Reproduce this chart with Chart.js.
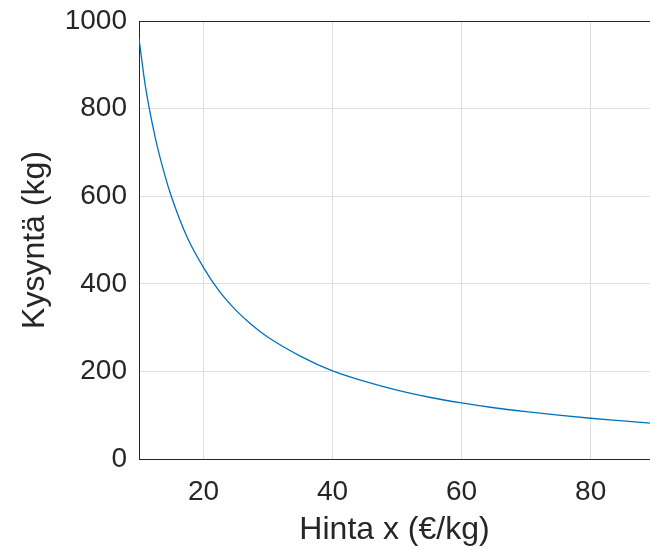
<!DOCTYPE html>
<html>
<head>
<meta charset="utf-8">
<script src="https://cdn.jsdelivr.net/npm/chart.js@4"></script>
<style>
	html, body { margin: 0; padding: 0; background: #fff; }
	#wrap { width: 650px; height: 550px; }
</style>
</head>
<body>
<div id="wrap"><canvas id="demandChart" width="650" height="550"></canvas></div>
<script>
// price x (€/kg) and demand (kg)
let prices = [10, 11, 12.5, 14, 15, 17.5, 20, 22.5, 25, 27.5, 30, 35, 40, 45, 50, 55, 60, 65, 70, 75, 80, 85, 89.2];
let demand = [960, 850, 735, 648, 600, 505, 437, 382, 340, 306, 278, 235, 201, 177, 157, 141, 128, 117, 108, 100, 93, 87, 82];

let xTicks = [20, 40, 60, 80];
let yTicks = [0, 200, 400, 600, 800, 1000];

let textColor = "#262626";
let gridColor = "#dedede";
let fontFamily = "'Liberation Sans', Arial, Helvetica, sans-serif";

let points = prices.map((p, i) => ({ x: p, y: demand[i] }));

let demandCurve = {
	label: "Kysyntä",
	data: points,
	showLine: true,
	fill: false,
	borderColor: "#0072BD",
	borderWidth: 1.3,
	pointRadius: 0,
	cubicInterpolationMode: "monotone",
};

let chartOptions = {
	responsive: false,
	animation: false,
	devicePixelRatio: 1,
	layout: {
		padding: { top: 21, right: 0, bottom: 0, left: 0 },
	},
	plugins: {
		legend: { display: false },
		tooltip: { enabled: false },
	},
	scales: {
		x: {
			type: "linear",
			min: 10,
			max: 89.2,
			afterBuildTicks: (scale) => {
				scale.ticks = xTicks.map((v) => ({ value: v }));
			},
			afterFit: (scale) => {
				scale.height = 91;
				scale.paddingLeft = 0;
				scale.paddingRight = 0;
			},
			border: { display: true, color: textColor, width: 1 },
			grid: { color: gridColor, lineWidth: 1, drawTicks: false },
			ticks: {
				color: textColor,
				padding: 16,
				maxRotation: 0,
				callback: (v) => String(v),
				font: { family: fontFamily, size: 28 },
			},
			title: {
				display: true,
				text: "Hinta x (€/kg)",
				color: textColor,
				padding: { top: 0, bottom: 1 },
				font: { family: fontFamily, size: 32 },
			},
		},
		y: {
			type: "linear",
			min: 0,
			max: 1000,
			afterBuildTicks: (scale) => {
				scale.ticks = yTicks.map((v) => ({ value: v }));
			},
			afterFit: (scale) => {
				scale.width = 139;
				scale.paddingTop = 0;
				scale.paddingBottom = 0;
			},
			border: { display: true, color: textColor, width: 1 },
			grid: {
				// top edge of the box is dark like the axes
				color: (ctx) => (ctx.tick && ctx.tick.value === 1000 ? textColor : gridColor),
				lineWidth: 1,
				drawTicks: false,
			},
			ticks: {
				color: textColor,
				padding: 12,
				callback: (v) => String(v),
				font: { family: fontFamily, size: 28 },
			},
			title: {
				display: true,
				text: "Kysyntä (kg)",
				color: textColor,
				padding: { top: 16, bottom: 0 },
				font: { family: fontFamily, size: 32 },
			},
		},
	},
};

let chart = new Chart(document.getElementById("demandChart"), {
	type: "scatter",
	data: { datasets: [demandCurve] },
	options: chartOptions,
});
</script>
</body>
</html>
